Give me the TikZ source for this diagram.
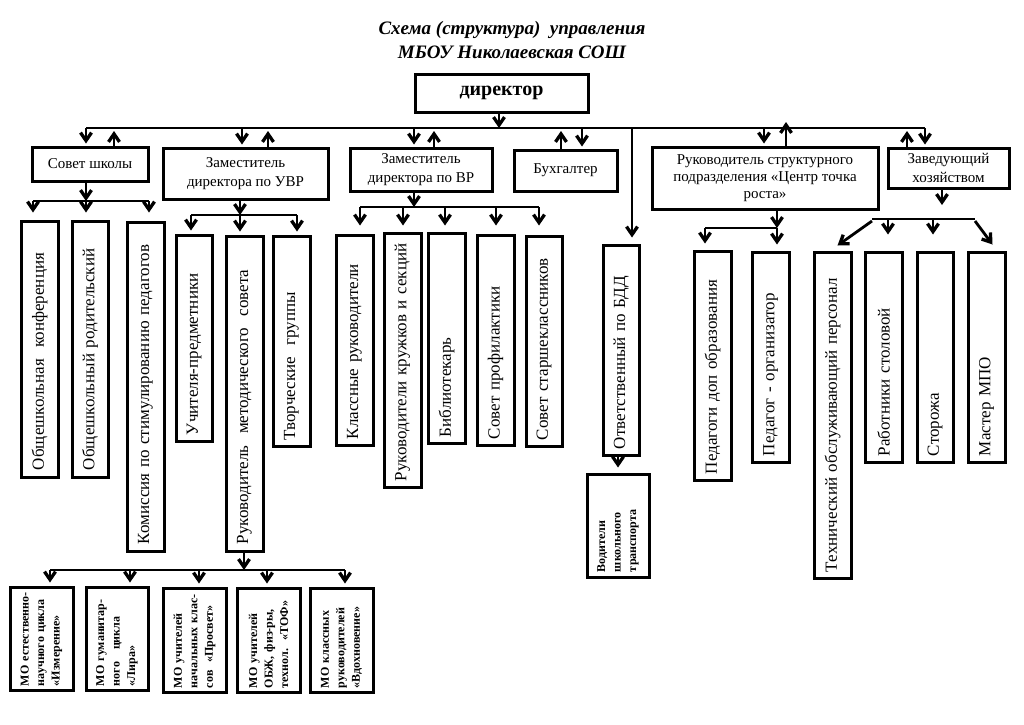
\documentclass[tikz,border=0pt]{standalone}
\usepackage{fontspec}
\setmainfont{Liberation Serif}
\usetikzlibrary{arrows.meta}
\tikzset{
  box/.style={draw, line width=3pt, inner sep=0pt, align=center, font=\fontsize{15}{19}\selectfont},
  vtext/.style={draw, line width=3pt, inner sep=0pt, rotate=90, align=left, font=\fontsize{17}{20}\selectfont},
  vsmall/.style={vtext, font=\bfseries\fontsize{12}{15.5}\selectfont},
  con/.style={line width=2.8pt},
  arr/.style={line width=2.8pt, -{Straight Barb[length=8pt,width=11pt,line width=3.3pt]}},
}
\newcommand{\vnode}[8]{%
  \pgfmathsetmacro{\myvcx}{(#3+#5)/2}%
  \pgfmathsetmacro{\myvcy}{(#4+#6)/2}%
  \pgfmathsetmacro{\myvlen}{#6-#4}%
  \pgfmathsetmacro{\myvbr}{#5-#3}%
  \pgfmathsetmacro{\myvtw}{#6-#4-2*#7}%
  \node[#1, minimum width=\myvlen pt, minimum height=\myvbr pt, text width=\myvtw pt] (#2) at (\myvcx,\myvcy) {#8};}
\newcommand{\hnode}[7]{%
  \pgfmathsetmacro{\myhcx}{(#3+#5)/2}%
  \pgfmathsetmacro{\myhcy}{(#4+#6)/2}%
  \pgfmathsetmacro{\myhw}{#5-#3}%
  \pgfmathsetmacro{\myhh}{#6-#4}%
  \node[#1, minimum width=\myhw pt, minimum height=\myhh pt] (#2) at (\myhcx,\myhcy) {#7};}
\begin{document}
\begin{tikzpicture}[x=1pt,y=-1pt]
\useasboundingbox[fill=white] (0,0) rectangle (1024,724);
\node[font=\bfseries\itshape\fontsize{19}{24}\selectfont, align=center] (title) at (512,40) {Схема (структура)~~управления\\МБОУ Николаевская СОШ};

% top level
\hnode{box, font=\bfseries\fontsize{20}{24}\selectfont}{dir}{415}{74}{588}{112}{директор}
\hnode{box}{sovet}{32}{147}{148}{181}{Совет школы}
\hnode{box}{uvr}{163}{148}{328}{199}{Заместитель\\директора по УВР}
\hnode{box}{vr}{350}{148}{492}{191}{Заместитель\\директора по ВР}
\hnode{box}{buh}{514}{150}{617}{191}{Бухгалтер}
\hnode{box, font=\fontsize{15}{17}\selectfont}{rs}{652}{147}{878}{209}{Руководитель структурного\\подразделения «Центр точка\\роста»}
\hnode{box}{zav}{888}{148}{1009}{188}{Заведующий\\хозяйством}

% vertical boxes
\vnode{vtext}{c1}{21}{221}{58}{477}{7}{Общешкольная~~конференция}
\vnode{vtext}{c2}{72}{221}{108}{477}{7}{Общешкольный родительский}
\vnode{vtext}{c3}{127}{222}{164}{551}{7}{Комиссия по стимулированию педагогов}
\vnode{vtext}{u1}{176}{235}{212}{441}{6}{Учителя-предметники}
\vnode{vtext}{u2}{226}{236}{263}{551}{7}{Руководитель~~методического~~совета}
\vnode{vtext}{u3}{273}{236}{310}{446}{6}{Творческие~~группы}
\vnode{vtext}{v1}{336}{235}{373}{445}{6}{Классные руководители}
\vnode{vtext}{v2}{384}{233}{421}{487}{6}{Руководители кружков и секций}
\vnode{vtext}{v3}{428}{233}{465}{443}{6}{Библиотекарь}
\vnode{vtext}{v4}{477}{235}{514}{445}{6}{Совет профилактики}
\vnode{vtext}{v5}{526}{236}{562}{446}{6}{Совет старшеклассников}
\vnode{vtext}{bdd}{603}{245}{639}{455}{6}{Ответственный по БДД}
\vnode{vsmall}{vod}{587}{474}{649}{577}{5}{Водители\\школьного\\транспорта}
\vnode{vtext}{r1}{694}{251}{731}{480}{6}{Педагоги доп образования}
\vnode{vtext}{r2}{752}{252}{789}{462}{6}{Педагог - организатор}
\vnode{vtext}{h1}{814}{252}{851}{578}{6}{Технический обслуживающий персонал}
\vnode{vtext}{h2}{865}{252}{902}{462}{6}{Работники столовой}
\vnode{vtext}{h3}{917}{252}{953}{462}{6}{Сторожа}
\vnode{vtext}{h4}{968}{252}{1005}{462}{6}{Мастер МПО}
\vnode{vsmall}{m1}{10}{587}{73}{690}{4}{МО естественно-\\научного цикла\\«Измерение»}
\vnode{vsmall}{m2}{86}{587}{148}{690}{4}{МО гуманитар-\\ного~~~цикла\\«Лира»}
\vnode{vsmall}{m3}{163}{588}{226}{692}{4}{МО учителей\\начальных клас-\\сов~~«Просвет»}
\vnode{vsmall}{m4}{237}{588}{300}{692}{4}{МО учителей\\ОБЖ, физ-ры,\\технол.~~«ТОФ»}
\vnode{vsmall}{m5}{310}{588}{373}{692}{4}{МО классных\\руководителей\\«Вдохновение»}

% top bus
\coordinate (bl) at (86,128);
\coordinate (br) at (925,128);
\draw[con] (bl) -- (br);
\coordinate (t0) at (499,128);
\draw[arr] (t0 |- dir.south) -- (t0);
\coordinate (t1) at (86,128);  \draw[arr, shorten >=2pt] (t1) -- (t1 |- sovet.north);
\coordinate (t2) at (114,128); \draw[arr, shorten >=3pt] (t2 |- sovet.north) -- (t2);
\coordinate (t3) at (242,128); \draw[arr, shorten >=2pt] (t3) -- (t3 |- uvr.north);
\coordinate (t4) at (268,128); \draw[arr, shorten >=3pt] (t4 |- uvr.north) -- (t4);
\coordinate (t5) at (414,128); \draw[arr, shorten >=2pt] (t5) -- (t5 |- vr.north);
\coordinate (t6) at (434,128); \draw[arr, shorten >=3pt] (t6 |- vr.north) -- (t6);
\coordinate (t7) at (561,128); \draw[arr, shorten >=3pt] (t7 |- buh.north) -- (t7);
\coordinate (t8) at (582,128); \draw[arr, shorten >=2pt] (t8) -- (t8 |- buh.north);
\coordinate (t9) at (632,128); \draw[arr, shorten >=6pt] (t9) -- (t9 |- bdd.east);
\coordinate (t10) at (764,128); \draw[arr, shorten >=2pt] (t10) -- (t10 |- rs.north);
\coordinate (t11) at (786,122); \draw[arr] (t11 |- rs.north) -- (t11);
\coordinate (t12) at (907,128); \draw[arr, shorten >=3pt] (t12 |- zav.north) -- (t12);
\coordinate (t13) at (925,128); \draw[arr, shorten >=2pt] (t13) -- (t13 |- zav.north);

% Совет школы children
\coordinate (s0) at (86,201);
\coordinate (sa) at (33,201);
\coordinate (sc) at (149,201);
\draw[arr] (s0 |- sovet.south) -- (s0);
\draw[con] (sa) -- (sc);
\draw[arr, shorten >=7pt] (sa) -- (sa |- c1.east);
\draw[arr, shorten >=7pt] (s0) -- (s0 |- c2.east);
\draw[arr, shorten >=8pt] (sc) -- (sc |- c3.east);

% УВР children
\coordinate (u0) at (240,215);
\coordinate (ua) at (191,215);
\coordinate (uc) at (297,215);
\draw[arr] (u0 |- uvr.south) -- (u0);
\draw[con] (ua) -- (uc);
\draw[arr, shorten >=3pt] (ua) -- (ua |- u1.east);
\draw[arr, shorten >=3pt] (u0) -- (u0 |- u2.east);
\draw[arr, shorten >=3pt] (uc) -- (uc |- u3.east);

% ВР children
\coordinate (w0) at (414,207);
\coordinate (wa) at (360,207);
\coordinate (wb) at (403,207);
\coordinate (wc) at (445,207);
\coordinate (wd) at (496,207);
\coordinate (we) at (539,207);
\draw[arr] (w0 |- vr.south) -- (w0);
\draw[con] (wa) -- (we);
\draw[arr, shorten >=8pt] (wa) -- (wa |- v1.east);
\draw[arr, shorten >=6pt] (wb) -- (wb |- v2.east);
\draw[arr, shorten >=6pt] (wc) -- (wc |- v3.east);
\draw[arr, shorten >=8pt] (wd) -- (wd |- v4.east);
\draw[arr, shorten >=9pt] (we) -- (we |- v5.east);

% методический совет children
\coordinate (k0) at (244,570);
\coordinate (ka) at (50,570);
\coordinate (kb) at (130,570);
\coordinate (kc) at (199,570);
\coordinate (kd) at (267,570);
\coordinate (ke) at (345,570);
\draw[arr] (k0 |- u2.west) -- (k0);
\draw[con] (ka) -- (ke);
\draw[arr, shorten >=3pt] (ka) -- (ka |- m1.east);
\draw[arr, shorten >=3pt] (kb) -- (kb |- m2.east);
\draw[arr, shorten >=3pt] (kc) -- (kc |- m3.east);
\draw[arr, shorten >=3pt] (kd) -- (kd |- m4.east);
\draw[arr, shorten >=3pt] (ke) -- (ke |- m5.east);

% БДД -> Водители
\coordinate (d0) at (618,455);
\draw[arr, shorten >=5pt] (d0 |- bdd.west) -- (d0 |- vod.east);

% Руководитель структурного children
\coordinate (p0) at (777,228);
\coordinate (pa) at (705,228);
\draw[arr] (p0 |- rs.south) -- (p0);
\draw[con] (pa) -- (p0);
\draw[arr, shorten >=6pt] (pa) -- (pa |- r1.east);
\draw[arr, shorten >=6pt] (p0) -- (p0 |- r2.east);

% Заведующий children
\coordinate (z0) at (942,205);
\coordinate (za) at (872,219);
\coordinate (zb) at (888,219);
\coordinate (zc) at (933,219);
\coordinate (zd) at (975,219);
\draw[arr] (z0 |- zav.south) -- (z0);
\draw[con] (za) -- (zd);
\draw[arr] ([yshift=-2pt]za) -- ([xshift=5pt,yshift=5pt]h1.east);
\draw[arr, shorten >=16pt] (zb) -- (zb |- h2.east);
\draw[arr, shorten >=16pt] (zc) -- (zc |- h3.east);
\draw[arr] ([yshift=-2pt]zd) -- ([xshift=6pt,yshift=6pt]h4.east);
\end{tikzpicture}
\end{document}
